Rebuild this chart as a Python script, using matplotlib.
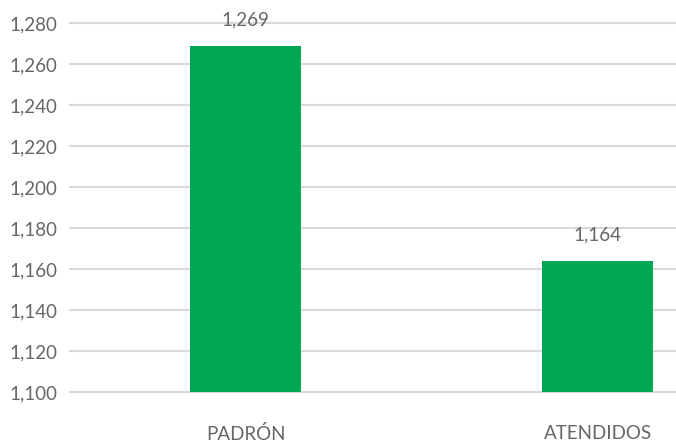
import matplotlib.pyplot as plt
from matplotlib.ticker import FuncFormatter

categorias = ['PADRÓN', 'ATENDIDOS']
valores = [1269, 1164]
yticks = list(range(1100, 1281, 20))

verde = '#00A651'
gris_texto = '#666666'
gris_grid = '#D9D9D9'

plt.rcParams['font.family'] = ['Lato', 'DejaVu Sans']

fig = plt.figure(figsize=(6.76, 4.44), dpi=100)
ax = fig.add_axes([70 / 676, 1 - 392 / 444, 606 / 676, 369 / 444])

x = list(range(len(categorias)))
ax.bar(x, valores, width=0.315, color=verde, zorder=3)

ax.set_xlim(-0.4986, 1.223)
ax.set_ylim(1100, 1280)
ax.set_yticks(yticks)
ax.yaxis.set_major_formatter(FuncFormatter(lambda v, p: f'{int(v):,}'))
ax.set_xticks(x)
ax.set_xticklabels(categorias)

ax.grid(axis='y', color=gris_grid, linewidth=1.5, zorder=0)
for line in ax.get_ygridlines():
    line.set_clip_on(False)
for s in ax.spines.values():
    s.set_visible(False)
ax.tick_params(axis='both', length=0, labelsize=13.5, colors=gris_texto)
ax.tick_params(axis='y', pad=9)
ax.tick_params(axis='x', pad=24)

for xi, v in zip(x, valores):
    ax.annotate(f'{v:,}', (xi, v), xytext=(0, 26), textcoords='offset pixels',
                ha='center', va='center', fontsize=13.5, color=gris_texto)

fig.savefig('out.png', dpi=100)
